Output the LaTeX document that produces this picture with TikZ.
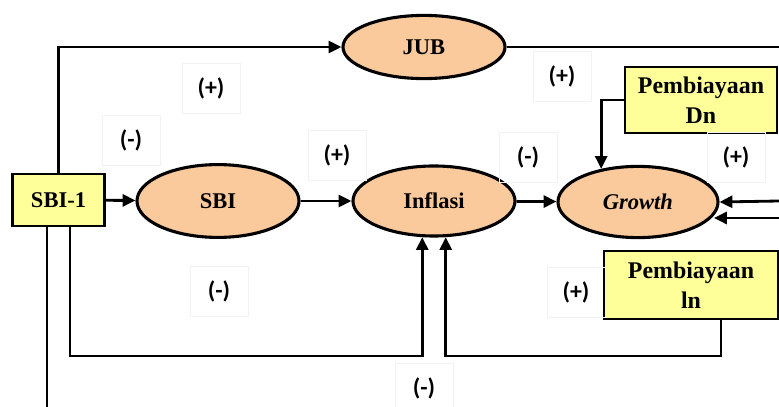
\documentclass[tikz,border=0pt]{standalone}
\usepackage{fontspec}
\setmainfont{Liberation Serif}
\newfontfamily\signfont{Carlito}
\usepackage{tikz}
\usetikzlibrary{shapes.geometric,arrows.meta}
\definecolor{peach}{RGB}{250,201,156}
\definecolor{lemon}{RGB}{255,255,153}

\begin{document}
\begin{tikzpicture}[x=0.025cm,y=-0.025cm,
	var/.style={ellipse,draw,line width=2.2pt,fill=peach,inner sep=0pt,
		font=\fontsize{16}{19}\selectfont\bfseries},
	src/.style={rectangle,draw,line width=1.6pt,fill=lemon,inner sep=0pt,align=center,
		font=\fontsize{17}{21}\selectfont\bfseries},
	sign/.style={draw=black!5,line width=0.4pt,minimum width=1.45cm,minimum height=1.25cm,
		font=\signfont\fontsize{17}{20}\selectfont\bfseries},
	wire/.style={line width=2pt},
	arr/.style={wire,-{Triangle[length=0.32cm,width=0.3cm]}}]
	%\draw[help lines] (0,0) grid[step=50] (779,407);
	\useasboundingbox (0,0) rectangle (779,407);
	% variables
	\node[src,minimum width=2.3cm,minimum height=1.3cm,font=\fontsize{16}{19}\selectfont\bfseries] (sbilag) at (58.5,200) {SBI-1};
	\node[var,minimum width=4.05cm,minimum height=1.82cm] (sbi) at (218,201) {SBI};
	\node[var,minimum width=4.05cm,minimum height=1.75cm] (inf) at (434,201) {Inflasi};
	\node[var,minimum width=4cm,minimum height=1.78cm] (gro) at (638,202) {\textit{Growth}};
	\node[var,minimum width=4.05cm,minimum height=1.58cm] (jub) at (424,47) {JUB};
	\node[src,minimum width=3.8cm,minimum height=1.65cm] (dn) at (701,100) {Pembiayaan\\Dn};
	\node[src,minimum width=4.35cm,minimum height=1.7cm] (lnf) at (691,285) {Pembiayaan\\ln};
	% free ends
	\coordinate (e1) at (779,47);
	\coordinate (e2) at (47,407);
	\coordinate (e3) at (779,201);
	\coordinate (e4) at (779,218);
	\coordinate (g2) at (714,218);
	\coordinate (b1) at (70,356);
	\coordinate (b2) at (721,356);
	% connectors
	\draw[arr] (sbilag) -- (sbi);
	\draw[arr] (sbi) -- (inf);
	\draw[arr] (inf) -- (gro);
	\draw[arr] (sbilag.north) |- (jub.west);
	\draw[wire] (jub.east) -- (e1);
	\draw[arr] (dn.west) -| (gro.138);
	\draw[arr] (e3) -- (gro.east);
	\draw[arr] (e4) -- (g2);
	\draw[wire] (sbilag.south -| e2) -- (e2);
	\draw[arr] (sbilag.south -| b1) -- (b1) -| (inf.252);
	\draw[arr] (lnf.south -| b2) -- (b2) -| (inf.288);
	% signs
	\node[sign] (s1) at (211,88) {(+)};
	\node[sign] (s2) at (131,140) {(-)};
	\node[sign] (s3) at (337,155) {(+)};
	\node[sign] (s4) at (562,76) {(+)};
	\node[sign] (s5) at (528,157) {(-)};
	\node[sign] (s6) at (736,157) {(+)};
	\node[sign] (s7) at (219,291) {(-)};
	\node[sign] (s8) at (576,292) {(+)};
	\node[sign] (s9) at (424,388) {(-)};
\end{tikzpicture}
\end{document}
